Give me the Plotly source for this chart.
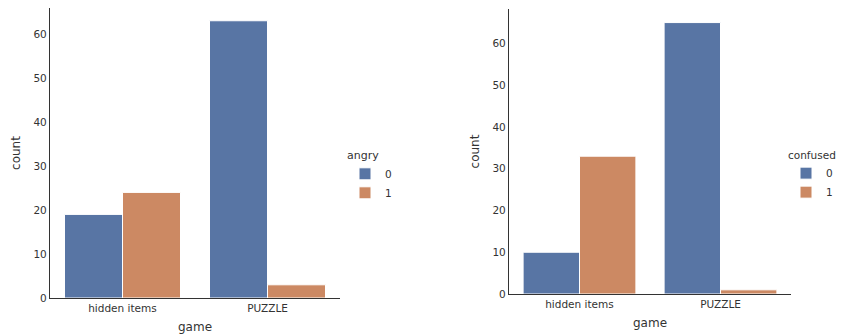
import plotly.graph_objects as go

games = ["hidden items", "PUZZLE"]
angry_0 = [19, 63]
angry_1 = [24, 3]
confused_0 = [10, 65]
confused_1 = [33, 1]

BLUE = "#5875a4"
ORANGE = "#cc8963"
TXT = "#333333"
FONT = "DejaVu Sans"

# page body has an 8px margin: figure occupies screen 8..848 x 8..336
OFF = 8
W, H = 848 - OFF, 336 - OFF

def px(x):
    return min(1.0, max(0.0, (x - OFF) / W))

def py(y):
    return min(1.0, max(0.0, 1 - (y - OFF) / H))

def dx(a, b):
    return [px(a), px(b)]

def dy(top, bottom):
    return [py(bottom), py(top)]

fig = go.Figure()

panels = [
    ("x", "y", "legend", "angry", angry_0, angry_1),
    ("x2", "y2", "legend2", "confused", confused_0, confused_1),
]
for xa, ya, lg, name, v0, v1 in panels:
    for label, vals, col in (("0", v0, BLUE), ("1", v1, ORANGE)):
        fig.add_trace(go.Bar(
            x=games, y=vals, name=label, xaxis=xa, yaxis=ya, legend=lg,
            marker=dict(color=col, line=dict(color="white", width=1)),
            offsetgroup=label,
        ))

axis_common = dict(showline=True, linecolor=TXT, linewidth=1.3, showgrid=False,
                   zeroline=False, ticks="", tickfont=dict(family=FONT, size=10.5, color=TXT),
                   mirror=False, automargin=False)
ttl = dict(family=FONT, size=12, color=TXT)

fig.update_layout(
    width=W, height=H, margin=dict(l=0, r=0, t=0, b=0),
    paper_bgcolor="white", plot_bgcolor="white",
    barmode="group", bargap=0.2, bargroupgap=0,
    font=dict(family=FONT, color=TXT),
    xaxis=dict(domain=dx(50, 340), anchor="y", **axis_common,
               title=dict(text="game", font=ttl, standoff=9)),
    yaxis=dict(domain=dy(8, 298), anchor="x", range=[0, 65.9], dtick=10, **axis_common,
               title=dict(text="count", font=ttl, standoff=10)),
    xaxis2=dict(domain=dx(509, 791), anchor="y2", **axis_common,
                title=dict(text="game", font=ttl, standoff=9)),
    yaxis2=dict(domain=dy(9, 294), anchor="x2", range=[0, 68.25], dtick=10, **axis_common,
                title=dict(text="count", font=ttl, standoff=10)),
    legend=dict(x=px(345), y=py(145), xanchor="left", yanchor="top",
                title=dict(text="angry", font=dict(family=FONT, size=11, color=TXT)),
                font=dict(family=FONT, size=10.5, color=TXT), bgcolor="rgba(0,0,0,0)",
                tracegroupgap=0, itemwidth=30),
    legend2=dict(x=px(786), y=py(145), xanchor="left", yanchor="top",
                 title=dict(text="confused", font=dict(family=FONT, size=10.5, color=TXT)),
                 font=dict(family=FONT, size=10.5, color=TXT), bgcolor="rgba(0,0,0,0)",
                 tracegroupgap=0, itemwidth=30),
)

fig.write_html("out.html")
